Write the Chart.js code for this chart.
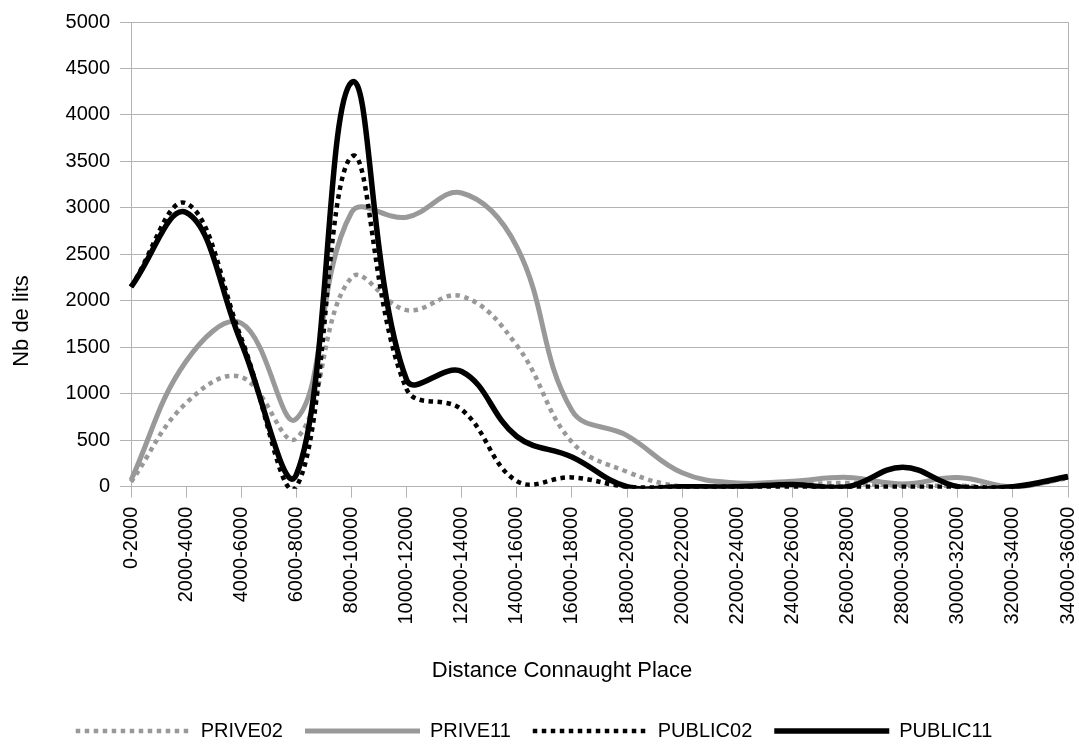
<!DOCTYPE html>
<html>
<head>
<meta charset="utf-8">
<script src="https://cdn.jsdelivr.net/npm/chart.js@4.4.0/dist/chart.umd.min.js"></script>
<style>
  html, body { margin: 0; padding: 0; background: #fff; }
  #wrap { width: 1079px; height: 751px; }
</style>
</head>
<body>
<div id="wrap"><canvas id="distChart" width="1079" height="751"></canvas></div>
<script>
const categories = [
    "0-2000", "2000-4000", "4000-6000", "6000-8000", "8000-10000", "10000-12000",
    "12000-14000", "14000-16000", "16000-18000", "18000-20000", "20000-22000", "22000-24000",
    "24000-26000", "26000-28000", "28000-30000", "30000-32000", "32000-34000", "34000-36000"
];

const prive02  = [50, 900, 1180, 520, 2250, 1900, 2050, 1520, 480, 160, 0, 0, 20, 40, 10, 10, 0, 90];
const prive11  = [70, 1350, 1760, 730, 2950, 2900, 3160, 2580, 820, 550, 150, 40, 60, 100, 30, 100, 0, 100];
const public02 = [2150, 3050, 1600, 0, 3550, 1050, 830, 60, 100, 0, 0, 0, 0, 0, 0, 0, 0, 100];
const public11 = [2150, 2950, 1550, 130, 4350, 1150, 1240, 540, 320, 0, 0, 0, 25, 0, 210, 0, 0, 110];

const yTicks = { min: 0, max: 5000, step: 500 };
const xTitle = "Distance Connaught Place";
const yTitle = "Nb de lits";

const fontFamily = '"Liberation Sans", Arial, sans-serif';
const gridColor = '#b3b3b3';
const grey = '#999999';

// axis titles are centred on the whole diagram (labels included), like the original
const axisTitles = {
    id: 'axisTitles',
    afterDraw(chart) {
        const ctx = chart.ctx;
        const area = chart.chartArea;
        ctx.save();
        ctx.font = '22px ' + fontFamily;
        ctx.fillStyle = '#000';
        ctx.textAlign = 'center';
        ctx.textBaseline = 'middle';
        ctx.fillText(xTitle, (56 + area.right) / 2, 671);
        ctx.translate(22, (area.top + 620) / 2);
        ctx.rotate(-Math.PI / 2);
        ctx.fillText(yTitle, 0, 0);
        ctx.restore();
    }
};

// legend samples: same dash and width as the series lines
function legendLabels(chart) {
    const items = Chart.defaults.plugins.legend.labels.generateLabels(chart);
    items.forEach(item => {
        const ds = chart.data.datasets[item.datasetIndex];
        item.lineDash = ds.borderDash || [];
        item.lineWidth = ds.borderWidth;
        item.strokeStyle = ds.borderColor;
    });
    return items;
}

const ctx = document.getElementById('distChart').getContext('2d');
new Chart(ctx, {
    type: 'line',
    data: {
        labels: categories,
        datasets: [
            { label: 'PRIVE02', data: prive02, borderColor: grey, borderWidth: 4.5, borderDash: [4.5, 4.5], order: 3 },
            { label: 'PRIVE11', data: prive11, borderColor: grey, borderWidth: 5, order: 2 },
            { label: 'PUBLIC02', data: public02, borderColor: '#000', borderWidth: 4.5, borderDash: [4.5, 4.5], order: 1 },
            { label: 'PUBLIC11', data: public11, borderColor: '#000', borderWidth: 5.5, order: 0 }
        ]
    },
    options: {
        responsive: false,
        animation: false,
        layout: { padding: { top: 22, right: 11, left: 0, bottom: 0 } },
        elements: {
            point: { radius: 0 },
            line: { tension: 0.4, fill: false, capBezierPoints: false, borderCapStyle: 'butt' }
        },
        datasets: { line: { clip: { left: 10, top: 10, right: 10, bottom: 2 } } },
        scales: {
            x: {
                grid: {
                    color: c => c.index === categories.length - 1 ? gridColor : 'rgba(0,0,0,0)',
                    tickColor: gridColor,
                    tickLength: 11
                },
                border: { color: gridColor },
                ticks: {
                    color: '#000',
                    font: { size: 20, family: fontFamily },
                    minRotation: 90,
                    maxRotation: 90,
                    autoSkip: false,
                    padding: 9
                },
                afterFit: s => {
                    s.height = 212.3;
                    s.paddingLeft = 0;
                    s.paddingRight = 0;
                }
            },
            y: {
                min: yTicks.min,
                max: yTicks.max,
                grid: { color: gridColor, tickLength: 11 },
                border: { color: gridColor },
                ticks: {
                    stepSize: yTicks.step,
                    color: '#000',
                    font: { size: 20, family: fontFamily },
                    padding: 10,
                    callback: v => String(v)
                },
                afterFit: s => { s.width = 131; }
            }
        },
        plugins: {
            legend: {
                position: 'bottom',
                labels: {
                    usePointStyle: true,
                    pointStyle: 'line',
                    pointStyleWidth: 115,
                    padding: 22,
                    color: '#000',
                    font: { size: 20, family: fontFamily },
                    generateLabels: legendLabels,
                    sort: (a, b) => a.datasetIndex - b.datasetIndex
                }
            },
            tooltip: { enabled: false }
        }
    },
    plugins: [axisTitles]
});
</script>
</body>
</html>
